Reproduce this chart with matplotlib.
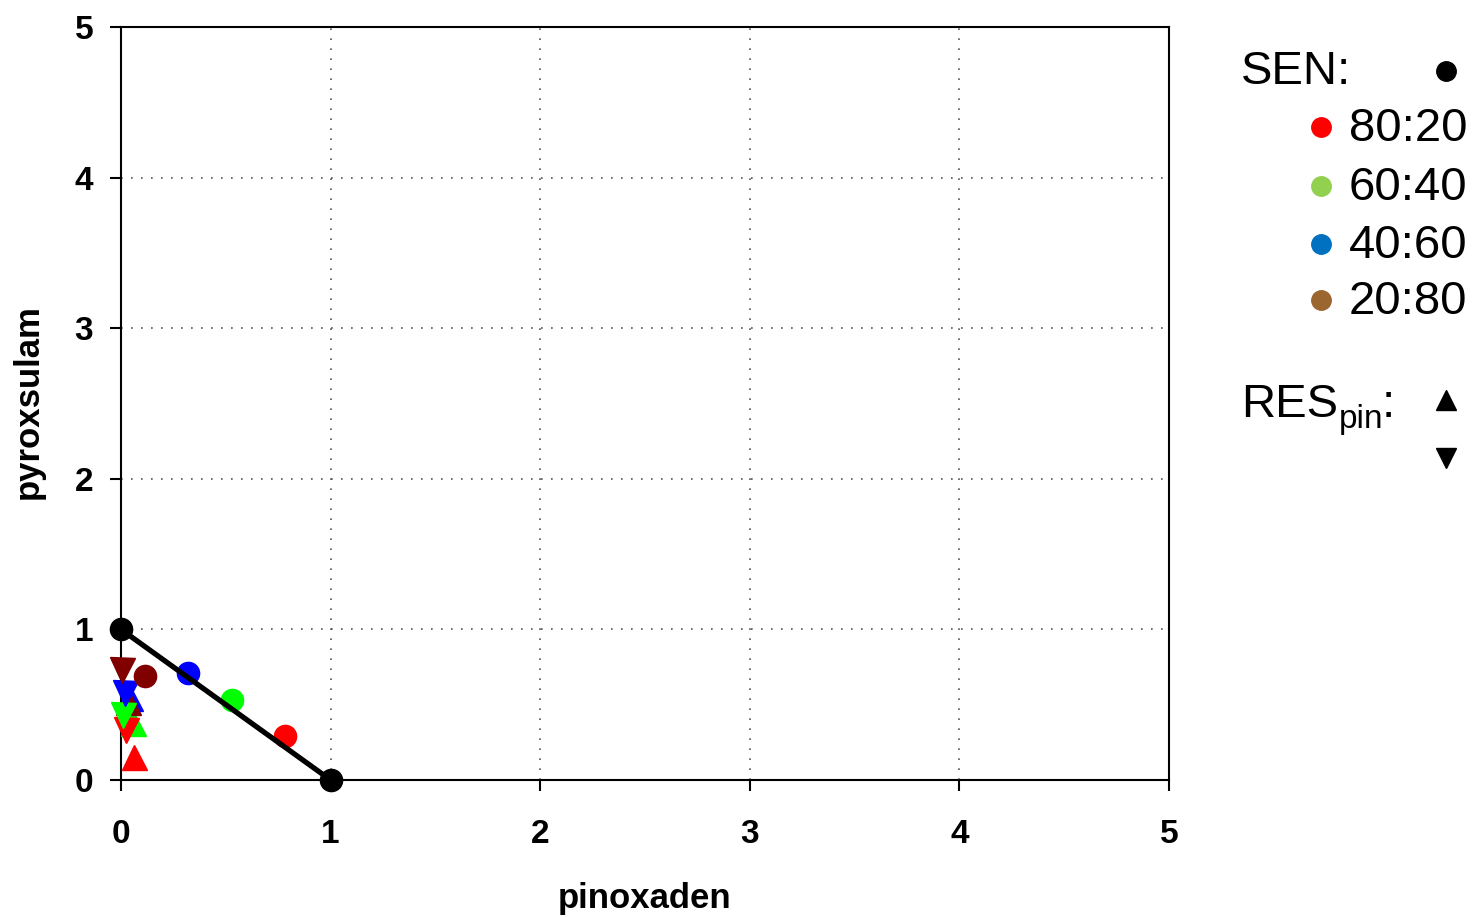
import matplotlib
matplotlib.use("Agg")
import matplotlib.pyplot as plt
from matplotlib.lines import Line2D

plt.rcParams['font.family'] = ['Liberation Sans', 'DejaVu Sans']

# isobole line for the sensitive biotype
sen_x = [0, 1]
sen_y = [1, 0]

# mixture ratios, colours on the plot
ratios = ['80:20', '60:40', '40:60', '20:80']
point_colors = ['#ff0000', '#00ff00', '#0000ff', '#800000']
legend_colors = ['#ff0000', '#92d050', '#0070c0', '#9c6630']

# SEN points (circles)
sen_px = [0.78, 0.53, 0.32, 0.115]
sen_py = [0.29, 0.53, 0.71, 0.69]

# RES_pin points, up triangles
up_px = [0.062, 0.057, 0.043, 0.035]
up_py = [0.155, 0.38, 0.545, 0.52]

# RES_pin points, down triangles
down_px = [0.024, 0.01, 0.02, 0.003]
down_py = [0.33, 0.43, 0.58, 0.73]

fig = plt.figure(figsize=(14.76, 9.17), dpi=100)
ax = fig.add_axes([0.082, 0.1494, 0.71, 0.8212])

ax.plot(sen_x, sen_y, color='black', lw=3.8, marker='o', ms=16, zorder=5, clip_on=False)

for i in range(len(ratios)):
    ax.plot(up_px[i], up_py[i], marker='^', ms=18, color=point_colors[i], ls='none', zorder=3, clip_on=False)
for i in range(len(ratios)):
    ax.plot(down_px[i], down_py[i], marker='v', ms=18, color=point_colors[i], ls='none', zorder=3, clip_on=False)
for i in range(len(ratios)):
    ax.plot(sen_px[i], sen_py[i], marker='o', ms=16, color=point_colors[i], ls='none', zorder=3)

ax.set_xlim(0, 5)
ax.set_ylim(0, 5)
ax.set_xticks(range(6))
ax.set_yticks(range(6))
ax.grid(True, color='#555555', ls=(0, (1, 5)), lw=1.2)
ax.tick_params(direction='out', length=8, width=1.5, labelsize=24)
ax.tick_params(axis='x', pad=20)
ax.tick_params(axis='y', pad=12)
for lbl in ax.get_xticklabels() + ax.get_yticklabels():
    lbl.set_fontweight('bold')
for sp in ax.spines.values():
    sp.set_linewidth(1.5)
ax.set_xlabel('pinoxaden', fontsize=25, fontweight='bold')
ax.set_ylabel('pyroxsulam', fontsize=25, fontweight='bold')
ax.xaxis.set_label_coords(0.5, -0.157)
ax.yaxis.set_label_coords(-0.0887, 0.503)
ax.xaxis.label.set_va('center')
ax.yaxis.label.set_va('center')

# legend drawn by hand
fs = 34
fig.text(1241 / 1476, 1 - 72 / 917, 'SEN:', fontsize=fs, va='center', ha='left')
fig.add_artist(Line2D([1446 / 1476], [1 - 71 / 917], marker='o', ms=14, color='black', ls='none'))
rows_y = [127, 186, 244, 300]
for i, r in enumerate(ratios):
    fig.add_artist(Line2D([1321 / 1476], [1 - rows_y[i] / 917], marker='o', ms=14,
                          color=legend_colors[i], ls='none'))
    fig.text(1349 / 1476, 1 - (rows_y[i] + 2) / 917, r, fontsize=fs, va='center', ha='left')
fig.text(1241 / 1476, 1 - 417 / 917, 'RES', fontsize=fs, va='baseline', ha='left')
fig.text(1339 / 1476, 1 - 428 / 917, 'pin', fontsize=24, va='baseline', ha='left')
fig.text(1382 / 1476, 1 - 417 / 917, ':', fontsize=fs, va='baseline', ha='left')
fig.add_artist(Line2D([1446 / 1476], [1 - 400 / 917], marker='^', ms=14, color='black', ls='none'))
fig.add_artist(Line2D([1446 / 1476], [1 - 458 / 917], marker='v', ms=14, color='black', ls='none'))

fig.savefig('out.png', dpi=100)
